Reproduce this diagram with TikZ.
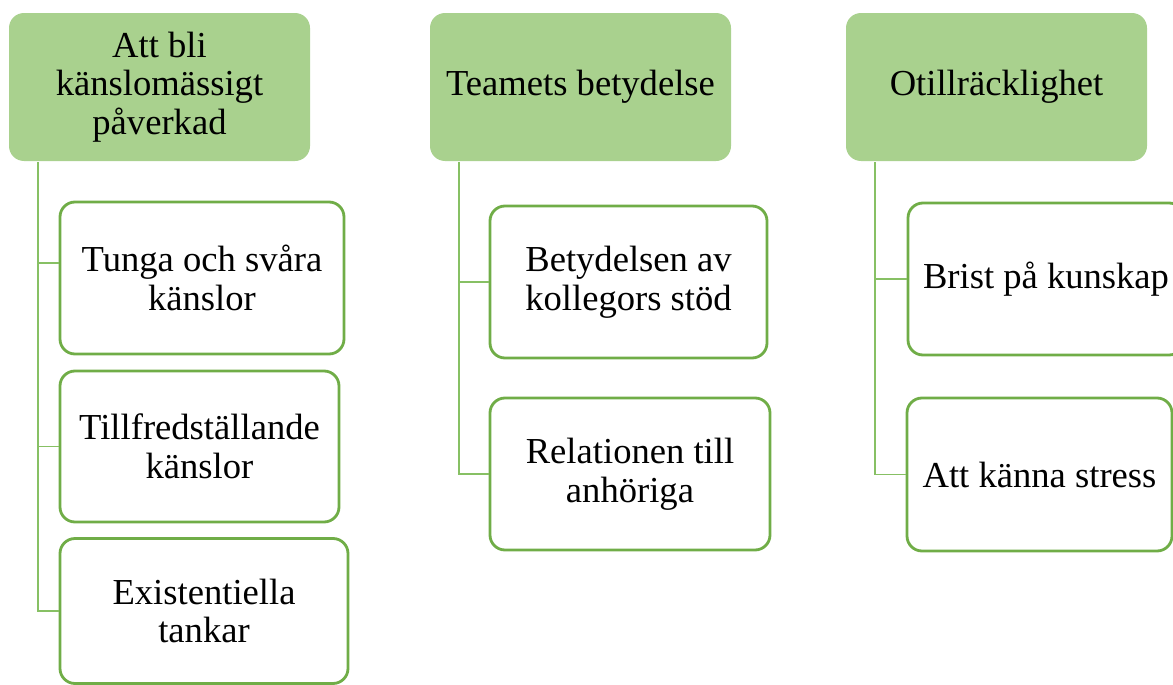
\documentclass[tikz,border=0pt]{standalone}
\usepackage{fontspec}
\setmainfont{Liberation Serif}
\definecolor{headgreen}{HTML}{A9D18E}
\definecolor{boxgreen}{HTML}{70AD47}
\definecolor{linkgreen}{RGB}{135,192,100}
\begin{document}
\begin{tikzpicture}[x=0.5pt, y=-0.5pt]
            \useasboundingbox (0,0) rectangle (1173,685);
            \clip (0,0) rectangle (1173,685);
            {
                \tikzset{every node/.style = {shape=rectangle, rounded corners=7.5pt, align=center,
                    inner sep=2pt, font=\fontsize{18.3}{19.3}\selectfont}}
                \tikzset{headbox/.style = {fill=headgreen, minimum width=150.5pt, minimum height=74pt}}
                \tikzset{itembox/.style = {draw=boxgreen, line width=1.4pt, fill=white, minimum height=76pt}}

                \node[headbox] (h1) at (159.5, 87) {Att bli\\känslomässigt\\påverkad};
                \node[headbox] (h2) at (580.5, 87) {Teamets betydelse};
                \node[headbox] (h3) at (996.5, 87) {Otillräcklighet};

                \node[itembox, minimum width=142pt] (a) at (202, 278) {Tunga och svåra\\känslor};
                \node[itembox, minimum width=139.5pt, minimum height=75.5pt] (b) at (199.5, 446.5) {Tillfredställande\\känslor};
                \node[itembox, minimum width=144pt, minimum height=72.5pt] (c) at (204, 611) {Existentiella\\tankar};

                \node[itembox, minimum width=138.5pt] (d) at (628.5, 282) {Betydelsen av\\kollegors stöd};
                \node[itembox, minimum width=140pt] (e) at (630, 474) {Relationen till\\anhöriga};

                \node[itembox, minimum width=138pt] (f) at (1046, 279) {Brist på kunskap};
                \node[itembox, minimum width=132.5pt, minimum height=76.5pt] (g) at (1039.5, 474.5) {Att känna stress};
            }

            % tree lines from each heading to its items
            \tikzset{link/.style = {draw=linkgreen, line width=0.8pt}}
            \coordinate (t1) at (38, 162);
            \coordinate (t2) at (459, 162);
            \coordinate (t3) at (875, 162);

            \draw[link] (t1) |- ([yshift=7.5pt]a.west);
            \draw[link] (t1) |- (b.west);
            \draw[link] (t1) |- (c.west);

            \draw[link] (t2) |- (d.west);
            \draw[link] (t2) |- (e.west);

            \draw[link] (t3) |- (f.west);
            \draw[link] (t3) |- (g.west);

        \end{tikzpicture}
\end{document}
